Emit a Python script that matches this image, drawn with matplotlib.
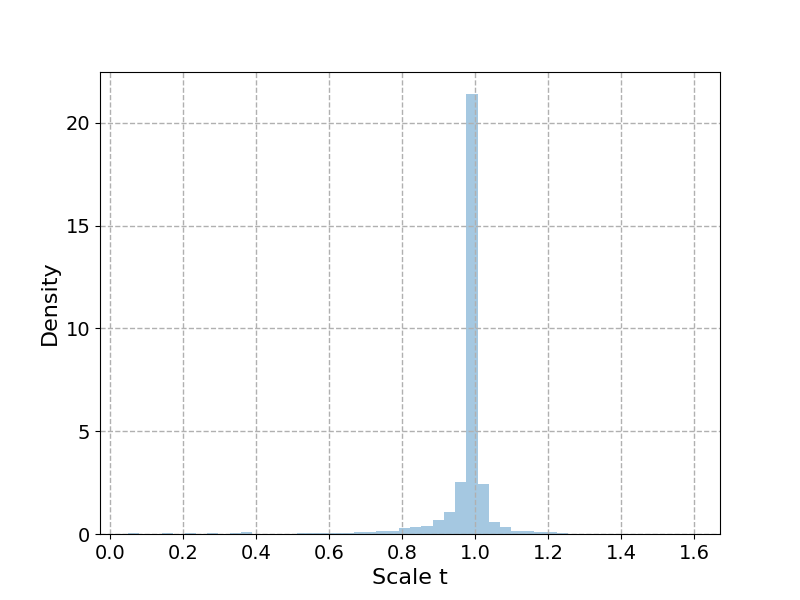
import numpy as np
import matplotlib
matplotlib.use("Agg")
import matplotlib.pyplot as plt

# histogram of scale t, 50 bins between min and max of the data
t_min = 0.050
t_max = 1.594
n_bins = 50
density = [
    0.03, 0.0, 0.0, 0.04, 0.0, 0.03, 0.0, 0.04, 0.0, 0.03,
    0.09, 0.02, 0.02, 0.02, 0.02, 0.07, 0.03, 0.07, 0.07, 0.04,
    0.09, 0.09, 0.13, 0.13, 0.27, 0.33, 0.38, 0.66, 1.06, 2.52,
    21.4, 2.42, 0.56, 0.36, 0.14, 0.14, 0.09, 0.09, 0.03, 0.005,
    0.005, 0.0, 0.0, 0.005, 0.0, 0.0, 0.0, 0.0, 0.0, 0.005,
]

edges = np.linspace(t_min, t_max, n_bins + 1)
width = edges[1] - edges[0]

fig, ax = plt.subplots(figsize=(8, 6), dpi=100)
ax.bar(edges[:-1], density, width=width, align="edge", color="C0", alpha=0.4, linewidth=0)
ax.grid(True, linestyle="--", linewidth=1, color="#b0b0b0")
ax.set_xlabel("Scale t", fontsize=16)
ax.set_ylabel("Density", fontsize=16)
ax.tick_params(labelsize=14)
ax.set_xticks([0.0, 0.2, 0.4, 0.6, 0.8, 1.0, 1.2, 1.4, 1.6])
ax.set_yticks([0, 5, 10, 15, 20])

fig.savefig("out.png", dpi=100)
